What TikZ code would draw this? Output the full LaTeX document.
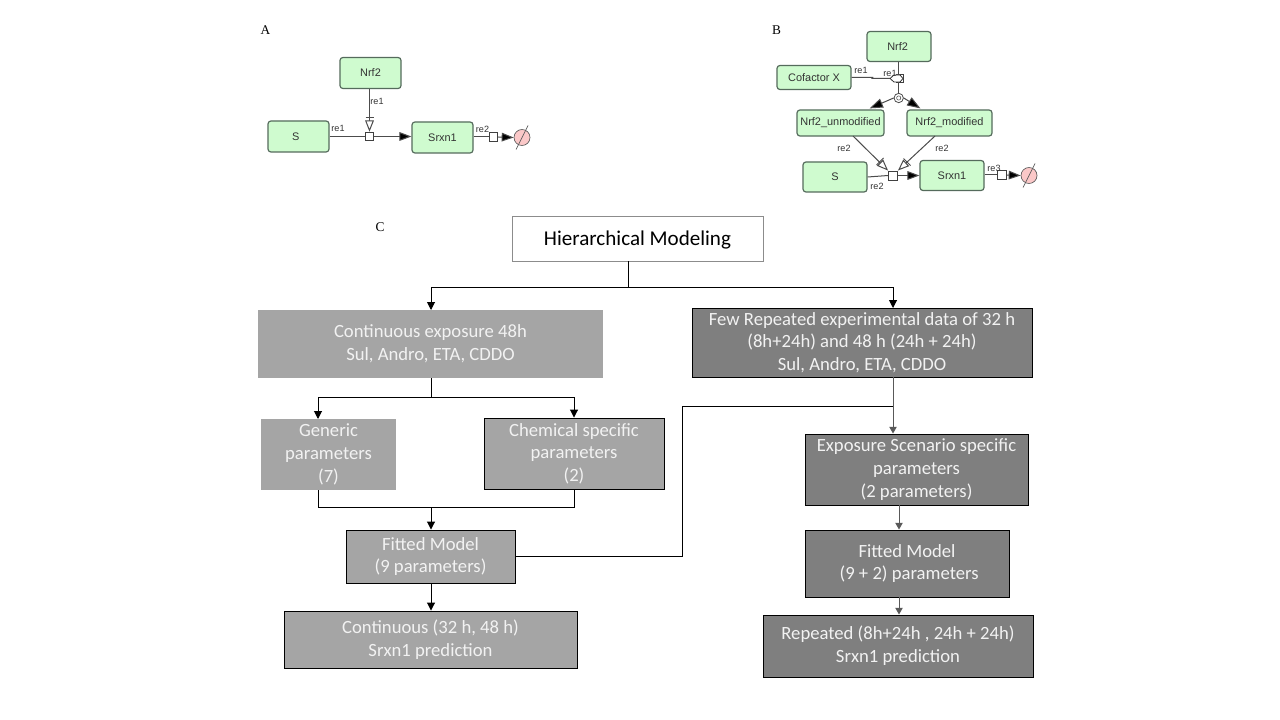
\documentclass[tikz,border=0pt]{standalone}
\usepackage{fontspec}
\setmainfont{Carlito}
\newfontfamily\smallsans{Liberation Sans}
\newfontfamily\panelserif{Liberation Serif}
\usetikzlibrary{arrows.meta,calc}
\definecolor{leaf}{HTML}{CFFBCF}
\definecolor{leafline}{HTML}{556B5C}
\definecolor{pink}{HTML}{FBC8C8}
\definecolor{midgray}{HTML}{A5A5A5}
\definecolor{darkgray}{HTML}{7F7F7F}
\definecolor{lighttext}{HTML}{F2F2F2}
\def\pxu{.75pt}
\tikzset{
  x=.75pt,y=-.75pt,
  species/.style={draw=leafline,line width=.9pt,fill=leaf,rounded corners=2.2pt,inner sep=0pt,text=black!80,font=\smallsans\fontsize{8.2}{9.8}\selectfont},
  tag/.style={inner sep=0pt,text=black!80,font=\smallsans\fontsize{6.8}{8}\selectfont},
  panel/.style={inner sep=0pt,font=\panelserif\fontsize{10}{12}\selectfont},
  rx/.style={draw=black!75,line width=.6pt,fill=white,minimum size=6.5pt,inner sep=0pt},
  sink/.style={circle,draw=black!65,line width=.5pt,fill=pink,minimum size=12pt,inner sep=0pt},
  assoc/.style={circle,draw=black!70,line width=.6pt,fill=white,minimum size=7pt,inner sep=0pt},
  link/.style={draw=black!70,line width=.75pt},
  prod/.style={link,-{Triangle[length=9pt,width=6.5pt,fill=black]}},
  modif/.style={link,-{Triangle[open,length=8.5pt,width=6.5pt,fill=white]}},
  bx/.style={inner sep=0pt,align=center,text=lighttext,font=\fontsize{14}{17}\selectfont,execute at begin node={\rule{0pt}{12.2pt}}},
  midbox/.style={bx,fill=midgray},
  midline/.style={midbox,draw=black,line width=.7pt},
  darkbox/.style={bx,fill=darkgray,draw=black,line width=.7pt},
  flow/.style={draw=black,line width=.75pt},
  flowa/.style={flow,-{Triangle[length=6pt,width=6pt]}},
  gflow/.style={draw=black!65,line width=.75pt},
  gflowa/.style={gflow,-{Triangle[length=5pt,width=5.5pt]}},
}
\begin{document}
\begin{tikzpicture}
\useasboundingbox (0,0) rectangle (1280,720);
\fill[white] (0,0) rectangle (1280,720);
% Panel A
\node[panel] (lA) at (265.5,30) {A};
\node[species,minimum width=61*\pxu,minimum height=31*\pxu] (aNrf) at (370.5,73) {Nrf2};
\node[species,minimum width=61*\pxu,minimum height=31*\pxu] (aS) at (298.5,136.5) {S\kern4pt};
\node[species,minimum width=61*\pxu,minimum height=31*\pxu] (aSr) at (442.5,137.5) {Srxn1};
\node[rx] (aR1) at (369.5,136.5) {};
\node[rx] (aR2) at (493.5,137) {};
\node[sink] (aSink) at (522,137.5) {};
\draw[black!65,line width=.5pt] ($(aSink)+(-6,12)$) -- ($(aSink)+(6,-12)$);
\draw[link] (aS.east) -- (aR1.west);
\draw[prod] (aR1.east) -- (aSr.west |- aR1);
\draw[link] (aSr.east |- aR2) -- (aR2.west);
\draw[prod] (aR2.east) -- (aSink.west);
\draw[modif] (aNrf.south -| aR1) -- (aR1.north);
\coordinate (aT) at (369.5,117.5);
\draw[black!70,line width=.7pt] ($(aT)+(-4,0)$) -- ($(aT)+(4,0)$);
\node[tag] (aT1) at (377,101.5) {re1};
\node[tag] (aT2) at (338,128) {re1};
\node[tag] (aT3) at (482.5,129.5) {re2};
% Panel B
\node[panel] (lB) at (776.5,30) {B};
\node[species,minimum width=64*\pxu,minimum height=30*\pxu] (bNrf) at (899,46.5) {Nrf2\kern2pt};
\node[species,minimum width=74*\pxu,minimum height=24*\pxu] (bCo) at (814,77.5) {Cofactor X};
\node[species,minimum width=87*\pxu,minimum height=26*\pxu] (bUn) at (840.5,123) {Nrf2\_unmodified};
\node[species,minimum width=85*\pxu,minimum height=26*\pxu] (bMod) at (949.5,123) {Nrf2\_modified};
\node[species,minimum width=64*\pxu,minimum height=30*\pxu] (bS) at (835,177) {S};
\node[species,minimum width=64*\pxu,minimum height=30*\pxu] (bSr) at (952,175.5) {Srxn1};
\node[rx,minimum size=6.8pt] (bR2) at (893,175.5) {};
\node[rx,minimum size=6.8pt] (bR3) at (1002,175) {};
\node[sink] (bSink) at (1029,175.5) {};
\draw[black!65,line width=.5pt] ($(bSink)+(-6,12)$) -- ($(bSink)+(6,-12)$);
\node[assoc] (bAs) at (898.7,98) {};
\node[circle,draw=black!70,line width=.4pt,minimum size=3.2pt,inner sep=0pt] (bAsIn) at (bAs) {};
\node[rx,minimum size=5.5pt,line width=.5pt] (bR1) at (899.5,78.5) {};
\coordinate (bDm) at (896.5,78.5);
\draw[black!80,line width=.6pt,fill=white] ($(bDm)+(-6.5,0)$) coordinate (bDl) -- ++(4,-3.5) -- ++(6,0) -- ++(3,3.5) -- ++(-3,3.5) -- ++(-6,0) -- cycle;
\draw[link] (bNrf.south -| bAs) -- (bR1.north -| bAs);
\draw[link] (bCo.east) -- ($(bCo.east)+(21,0)$) -- ($(bDl)+(-18,0)$) -- (bDl);
\draw[link] (bR1.south -| bAs) -- (bAs.north);
\draw[link,-{Triangle[length=10pt,width=7pt,fill=black]}] (bAs.west) -- ($(bUn.north east)+(-15,-1)$);
\draw[link,-{Triangle[length=10pt,width=7pt,fill=black]}] (bAs.east) -- ($(bMod.north west)+(14,-1)$);
\draw[link] (bS.east) -- (bR2.west);
\draw[prod] (bR2.east) -- (bSr.west |- bR2);
\draw[link] (bSr.east |- bR3) -- (bR3.west);
\draw[prod] (bR3.east) -- (bSink.west);
\coordinate (bUs) at (853,136);
\coordinate (bMs) at (935,136);
\draw[modif] (bUs) -- (bR2.north west);
\draw[modif] (bMs) -- (bR2.north east);
\draw[black!70,line width=.7pt] (876.5,165) -- (883.5,158);
\draw[black!70,line width=.7pt] (903.5,158.5) -- (910.5,165.5);
\node[tag] (bT1) at (861,70) {re1};
\node[tag] (bT2) at (890,73) {re1};
\node[tag] (bT3) at (844,148) {re2};
\node[tag] (bT4) at (942,148) {re2};
\node[tag] (bT5) at (877,186) {re2};
\node[tag] (bT6) at (994,168) {re3};
% Panel C
\node[panel] (lC) at (380,227.5) {C};
\node[inner sep=0pt,draw=black!45,line width=.7pt,fill=white,text=black,font=\fontsize{15.8}{19}\selectfont,minimum width=251*\pxu,minimum height=45*\pxu,execute at begin node={\rule{0pt}{13pt}}] (hier) at (637.5,238.5) {Hierarchical Modeling};
\node[midbox,minimum width=345*\pxu,minimum height=68*\pxu] (cont) at (430.5,344) {Continuous exposure 48h\\Sul, Andro, ETA, CDDO};
\node[darkbox,minimum width=340*\pxu,minimum height=69*\pxu] (few) at (862,342.5) {Few Repeated experimental data of 32 h\\(8h+24h) and 48 h (24h + 24h)\\Sul, Andro, ETA, CDDO};
\node[midbox,minimum width=135*\pxu,minimum height=71*\pxu] (gen) at (328.5,454.5) {Generic\\parameters\\(7)};
\node[midline,minimum width=180*\pxu,minimum height=71*\pxu] (chem) at (574,453.5) {Chemical specific\\parameters\\(2)};
\node[midline,minimum width=169*\pxu,minimum height=53*\pxu] (fit) at (430.5,556.5) {Fitted Model\\(9 parameters)};
\node[midline,minimum width=293*\pxu,minimum height=57*\pxu] (pred) at (430.5,639.5) {Continuous (32 h, 48 h)\\Srxn1 prediction};
\node[darkbox,minimum width=223*\pxu,minimum height=71*\pxu] (expo) at (916.5,469.5) {Exposure Scenario specific\\parameters\\(2 parameters)};
\node[darkbox,minimum width=204*\pxu,minimum height=67*\pxu] (fit2) at (907,563.5) {Fitted Model\\\ (9 + 2) parameters};
\node[darkbox,minimum width=270*\pxu,minimum height=62*\pxu] (rep) at (898,646) {Repeated (8h+24h , 24h + 24h)\\Srxn1 prediction};
\coordinate (j1) at (628,287);
\coordinate (j2) at (431,397);
\coordinate (j3) at (431,507);
\coordinate (tl) at (431,310);
\coordinate (tr) at (893,308);
\coordinate (gl) at (318,419);
\coordinate (jx) at (682,406);
\draw[flow] (hier.south -| j1) -- (j1);
\draw[flowa] (j1) -| (tl);
\draw[flowa] (j1) -| (tr);
\draw[flow] (cont.south -| j2) -- (j2);
\draw[flowa] (j2) -| (gl);
\draw[flowa] (j2) -| (chem.north);
\draw[flow] (gl |- gen.south) -- (gl |- j3) -- (chem.south |- j3) -- (chem.south);
\draw[flowa] (j3) -- (fit.north -| j3);
\draw[flowa] (fit.south -| j3) -- (pred.north -| j3);
\draw[flow] (fit.east) -- (jx |- fit.east) -- (jx) -- (tr |- jx);
\draw[gflowa] (few.south -| tr) -- (expo.north -| tr);
\coordinate (gx) at (899,520);
\draw[gflowa] (expo.south -| gx) -- (fit2.north -| gx);
\draw[gflowa] (fit2.south -| gx) -- (rep.north -| gx);
\end{tikzpicture}
\end{document}
